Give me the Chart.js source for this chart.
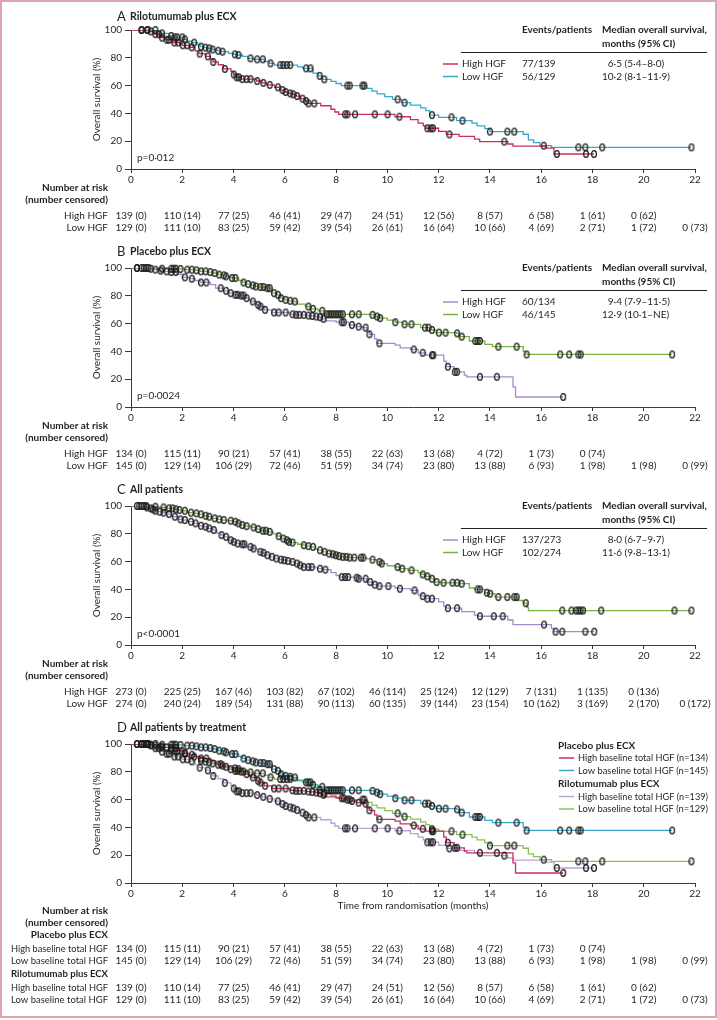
<!DOCTYPE html>
<html>
<head>
<meta charset="utf-8">
<script src="https://cdn.jsdelivr.net/npm/chart.js@4.4.1/dist/chart.umd.min.js"></script>
<style>
  html, body { margin: 0; padding: 0; background: #fff; }
  body { width: 717px; height: 1020px; position: relative; overflow: hidden; }
  .panel { position: absolute; left: 0; width: 717px; }
  .panel canvas { display: block; }
  .frame { position: absolute; left: 0; top: 0; width: 717px; height: 1018px; box-sizing: border-box;
           border: 2px solid #d9a5b7; pointer-events: none; }
</style>
</head>
<body>
<div class="panel" style="top:0"><canvas id="chartA" width="717" height="238"></canvas></div>
<div class="panel" style="top:238px"><canvas id="chartB" width="717" height="238"></canvas></div>
<div class="panel" style="top:476px"><canvas id="chartC" width="717" height="238"></canvas></div>
<div class="panel" style="top:714px"><canvas id="chartD" width="717" height="306"></canvas></div>
<div class="frame"></div>
<script>
// ---- data ----
const months = [0, 2, 4, 6, 8, 10, 12, 14, 16, 18, 20, 22];

// Rilotumumab plus ECX, high HGF: [month, survival %] after each drop
const rilHighSteps = [[0,100],[0.7,99],[0.9,97],[1.1,96],[1.2,94.5],[1.35,93],[1.6,91],[1.9,90],[2.0,89],[2.3,87.5],[2.5,85],[2.65,83],[2.9,81],[3.1,79],[3.2,77],[3.4,75],[3.6,72],[3.9,70],[4.0,68],[4.1,66],[4.3,64.7],[4.9,63.3],[5.1,62],[5.3,60.5],[5.6,58.8],[5.8,56.8],[6.0,55.4],[6.15,54.4],[6.3,53.7],[6.45,52.5],[6.6,50.6],[6.8,48.9],[6.9,47.2],[7.4,45.5],[7.8,43],[7.95,41],[8.1,39.3],[10.3,37.6],[10.9,35.5],[11.2,33],[11.4,31],[11.5,29.3],[12.0,27],[12.3,24.9],[12.8,23.5],[13.4,21.5],[13.6,19.7],[14.7,18],[14.9,16.5],[16.2,15],[16.5,10.8],[18.06,10.8]];
const rilHighCensor = [0.41,0.64,0.77,0.95,1.09,1.21,1.39,1.48,1.69,1.84,2.02,2.19,2.37,2.68,3.0,3.21,3.66,4.01,4.12,4.21,4.34,4.51,4.66,4.92,5.16,5.41,5.73,5.91,6.03,6.21,6.33,6.48,6.69,6.83,6.92,7.15,8.35,8.44,8.74,9.51,10.01,10.47,11.56,11.69,11.78,12.42,14.56,16.61,17.75,18.06];

const rilLowSteps = [[0,100],[1.0,99],[1.15,97.6],[1.5,95.7],[1.65,94.7],[2.05,93.3],[2.2,92],[2.4,90.9],[2.6,89.5],[2.7,88],[2.85,87.3],[3.0,86.8],[3.15,86],[3.35,85.1],[3.5,84.4],[3.8,83.2],[4.0,82.5],[4.15,82],[4.35,81],[4.55,79.6],[4.8,78.9],[5.2,77.5],[5.4,76],[5.6,74.8],[6.5,73.5],[6.7,72.4],[7.1,69],[7.3,67],[7.45,64.5],[7.8,63],[8.0,61.5],[8.2,60],[9.2,58],[9.4,56],[9.6,54],[9.9,52],[10.2,50.1],[10.55,47.7],[10.9,46],[11.3,44],[11.5,42],[11.65,38.8],[12.0,37.2],[12.7,34.8],[13.3,33],[13.5,31],[13.8,29],[14.0,26.9],[15.3,25],[15.5,21],[15.7,19],[15.95,16.8],[16.4,15.6],[21.86,15.6]];
const rilLowCensor = [0.41,0.64,0.95,1.21,1.57,1.7,1.8,2.0,2.1,2.46,2.73,2.9,3.05,3.18,3.4,3.57,4.05,4.19,4.66,4.92,5.14,5.44,5.82,5.94,6.08,6.21,6.83,7.0,7.36,7.54,8.44,8.53,9.03,9.1,10.4,10.67,11.74,12.5,12.93,14.0,14.68,14.95,16.1,17.45,17.72,18.38,21.86];

// Placebo plus ECX
const plaHighSteps = [[0,100],[0.6,99.5],[0.9,98.8],[1.1,98.1],[1.3,97.6],[1.5,97.1],[1.8,95.5],[2.0,93.3],[2.3,92.3],[2.5,91],[2.7,89.6],[3.1,88],[3.3,85.5],[3.6,83.6],[3.8,81.9],[4.0,80.7],[4.25,80.2],[4.45,78.3],[4.6,77],[4.7,75.9],[4.9,73.5],[5.0,72.3],[5.2,69.9],[5.5,68],[6.2,66.7],[6.4,66.3],[6.85,65.8],[7.0,65.5],[7.2,65.1],[7.3,64.6],[7.45,63.4],[7.6,62],[8.0,61],[8.5,59],[8.8,57.8],[9.0,57.1],[9.2,54],[9.3,52.3],[9.5,49],[9.6,45.8],[10.3,44.5],[10.5,42.5],[10.9,41.4],[11.2,39],[11.5,37.3],[12.2,33],[12.3,29],[12.6,25.3],[13.0,23],[13.1,21.7],[14.9,14.5],[15.0,7.2],[16.86,7.2]];
const plaHighCensor = [0.23,0.41,0.59,0.77,0.95,1.16,1.39,1.57,1.75,2.1,2.37,2.73,2.94,3.5,3.71,3.89,4.07,4.16,4.3,4.39,4.51,4.75,4.96,5.05,5.23,5.58,5.76,6.03,6.3,6.44,6.57,6.74,6.92,7.07,7.23,7.37,7.51,8.22,8.3,8.62,8.88,9.15,9.3,9.69,11.03,11.38,11.74,11.79,12.36,12.63,12.72,13.61,14.27,16.86];

const plaLowSteps = [[0,100],[1.0,99.5],[1.8,99.3],[2.1,98.8],[2.5,98.3],[2.7,97.6],[3.0,97.1],[3.2,96.4],[3.4,95.2],[3.6,94.7],[3.7,94],[3.9,92.8],[4.2,91],[4.35,89.6],[4.5,88.4],[4.7,87.5],[4.85,86.7],[5.0,86.3],[5.3,85.5],[5.5,81.9],[5.7,80.7],[5.85,78.3],[6.0,77.1],[6.15,76.4],[6.3,75.9],[6.5,74],[6.8,72.3],[7.0,70.6],[7.3,69.2],[7.55,66.7],[9.4,66.3],[9.55,65.1],[9.7,63.9],[10.0,62.5],[10.3,61],[10.6,59.5],[11.3,57.1],[11.7,55.4],[11.9,53.5],[12.7,53],[12.8,50.6],[13.2,47.5],[13.8,45],[14.1,43.4],[15.3,40],[15.4,37.8],[21.11,37.8]];
const plaLowCensor = [0.23,0.5,0.68,1.21,1.57,1.66,1.75,1.93,2.19,2.37,2.55,2.73,2.91,3.09,3.26,3.44,3.62,3.71,3.94,4.07,4.39,4.57,4.75,4.87,5.05,5.17,5.32,5.41,5.58,5.73,5.85,6.03,6.21,6.39,6.92,7.1,7.46,7.64,7.73,7.81,7.9,7.99,8.08,8.17,8.26,8.62,8.88,9.42,9.6,9.72,10.31,10.67,10.94,11.47,11.6,11.74,12.01,12.27,12.72,12.9,13.43,13.52,13.61,14.33,15.04,15.43,16.74,17.09,17.45,17.54,21.11];

// All patients
const allHighSteps = [[0,100],[0.55,99],[0.7,98.3],[0.85,97.6],[0.95,96.6],[1.05,95.9],[1.2,95.2],[1.4,94.2],[1.6,92.3],[1.85,90.4],[2.0,89.9],[2.2,88.7],[2.45,87.5],[2.65,85.8],[2.85,85.1],[3.0,83.9],[3.2,82.7],[3.35,80.5],[3.5,79.1],[3.65,77.8],[3.8,75.4],[3.95,74.2],[4.1,73],[4.25,72.5],[4.5,70.6],[4.75,69.4],[4.95,67],[5.1,66.3],[5.25,64.6],[5.45,63.4],[5.6,62.2],[5.8,61.4],[5.95,61],[6.1,60.5],[6.25,59.8],[6.4,58.6],[6.55,57.3],[6.7,56.1],[7.2,55.5],[7.3,54.9],[7.5,54.2],[7.8,52],[8.0,50],[8.15,48.9],[8.75,48.4],[8.85,47.7],[9.2,45.3],[9.45,43.4],[9.65,42.4],[10.3,41],[10.45,40.5],[10.9,39.3],[11.2,36],[11.35,35.2],[11.5,33.3],[12.0,31],[12.2,28],[12.3,26.5],[12.9,24],[13.4,21.5],[13.55,20.7],[14.7,18],[14.9,14.7],[16.4,12],[16.5,9.6],[18.07,9.6]];
const allHighCensor = [0.32,0.5,0.62,0.77,0.86,0.95,1.12,1.27,1.48,1.71,1.93,2.1,2.34,2.52,2.73,2.91,3.05,3.23,3.53,3.71,3.89,4.01,4.16,4.34,4.42,4.66,4.78,5.05,5.17,5.32,5.5,5.67,5.85,5.98,6.12,6.3,6.48,6.6,6.74,6.92,7.05,7.37,7.58,8.22,8.35,8.47,8.8,8.88,9.15,9.33,9.51,9.69,10.04,10.49,11.06,11.38,11.56,11.74,12.36,12.72,13.61,14.15,14.5,16.11,16.56,16.82,17.72,18.07];

const allLowSteps = [[0,100],[0.8,99.5],[1.1,99],[1.4,98.3],[1.7,97.6],[1.85,97.1],[2.0,96.6],[2.2,95.2],[2.45,94.7],[2.65,94],[2.85,93],[3.0,92.3],[3.15,91.1],[3.35,90.4],[3.55,89.9],[3.8,89.4],[4.0,88.7],[4.15,87.5],[4.3,86.3],[4.45,85.5],[4.7,84.6],[4.9,83.4],[5.1,82.2],[5.35,81.4],[5.55,80],[5.7,78.3],[5.85,76.6],[6.0,75.4],[6.15,74.2],[6.25,73.7],[6.5,72.5],[6.7,71.8],[6.85,71.1],[7.0,70.6],[7.2,69],[7.3,68.2],[7.5,67],[7.65,65.8],[7.8,65.3],[7.95,64.6],[8.05,63.9],[8.2,63.4],[8.5,62.9],[9.2,62],[9.35,61.4],[9.6,59.8],[9.75,58.6],[10.0,57],[10.3,56.1],[10.5,54.9],[10.8,53.7],[11.2,52],[11.35,50.8],[11.5,49.4],[11.7,47.7],[11.85,45.3],[12.1,44.8],[12.8,44.1],[13.2,41],[13.4,40],[13.8,37.6],[13.95,36.9],[14.2,34.5],[15.1,32],[15.3,30.1],[15.45,27],[15.5,24.8],[21.86,24.8]];
const allLowCensor = [0.23,0.41,0.59,0.95,1.27,1.48,1.62,1.75,1.89,2.1,2.34,2.55,2.73,2.91,3.05,3.26,3.44,3.62,3.89,4.07,4.19,4.34,4.51,4.78,4.96,5.14,5.26,5.41,5.76,5.94,6.08,6.16,6.3,6.74,6.92,7.1,7.37,7.55,7.73,7.87,7.99,8.12,8.26,8.4,8.53,8.71,8.97,9.06,9.42,9.69,9.78,10.4,10.58,10.94,11.38,11.56,11.74,11.92,12.19,12.54,12.72,12.9,13.52,13.61,13.88,14.01,14.33,14.68,14.95,15.04,15.4,16.82,17.18,17.36,17.45,17.54,17.63,18.34,21.2,21.86];

// number at risk / number censored
const rilHighRisk = [139, 110, 77, 46, 29, 24, 12, 8, 6, 1, 0];
const rilHighCens = [0, 14, 25, 41, 47, 51, 56, 57, 58, 61, 62];
const rilLowRisk = [129, 111, 83, 59, 39, 26, 16, 10, 4, 2, 1, 0];
const rilLowCens = [0, 10, 25, 42, 54, 61, 64, 66, 69, 71, 72, 73];
const plaHighRisk = [134, 115, 90, 57, 38, 22, 13, 4, 1, 0];
const plaHighCens = [0, 11, 21, 41, 55, 63, 68, 72, 73, 74];
const plaLowRisk = [145, 129, 106, 72, 51, 34, 23, 13, 6, 1, 1, 0];
const plaLowCens = [0, 14, 29, 46, 59, 74, 80, 88, 93, 98, 98, 99];
const allHighRisk = [273, 225, 167, 103, 67, 46, 25, 12, 7, 1, 0];
const allHighCens = [0, 25, 46, 82, 102, 114, 124, 129, 131, 135, 136];
const allLowRisk = [274, 240, 189, 131, 90, 60, 39, 23, 10, 3, 2, 0];
const allLowCens = [0, 24, 54, 88, 113, 135, 144, 154, 162, 169, 170, 172];

// legend tables
const eventsA = ['77/139', '56/129'];
const medianA = ['6·5 (5·4–8·0)', '10·2 (8·1–11·9)'];
const eventsB = ['60/134', '46/145'];
const medianB = ['9·4 (7·9–11·5)', '12·9 (10·1–NE)'];
const eventsC = ['137/273', '102/274'];
const medianC = ['8·0 (6·7–9·7)', '11·6 (9·8–13·1)'];

// ---- style ----
const FONT = 'Lato, "Open Sans", "Liberation Sans", sans-serif';
const INK = '#231f20';
const AXIS = '#3a3a3a';
const RED = '#c8305e', CYAN = '#39a9c9', LAV = '#a68bca', GREEN = '#76b545';
const LAV2 = '#bba3da', GREEN2 = '#88c257';

Chart.defaults.font.family = FONT;
Chart.defaults.font.size = 10;
Chart.defaults.color = INK;

const survAt = (steps, t) => {
  let s = steps[0][1];
  steps.forEach(([x, y]) => { if (x <= t) s = y; });
  return s;
};

// censor tick: small upright ellipse
const makeMark = () => {
  const c = document.createElement('canvas');
  c.width = 8; c.height = 10;
  const g = c.getContext('2d');
  g.strokeStyle = '#1b1b1b';
  g.lineWidth = 1.2;
  g.beginPath();
  g.ellipse(4, 5, 2.4, 3.4, 0, 0, Math.PI * 2);
  g.stroke();
  return c;
};
const MARK = makeMark();

const curve = (steps, censors, color) => [
  {
    data: steps.map(([x, y]) => ({ x, y })),
    borderColor: color,
    borderWidth: 1.3,
    stepped: true,
    pointRadius: 0,
    fill: false,
    order: 2,
  },
  {
    data: censors.map(t => ({ x: t, y: survAt(steps, t) })),
    showLine: false,
    pointStyle: MARK,
    pointRadius: 4,
    order: 1,
    clip: false,
  },
];

const font = (size, bold) => `${bold ? 'bold ' : ''}${size}px ${FONT}`;

const line = (ctx, x1, x2, y, color, w) => {
  ctx.strokeStyle = color;
  ctx.lineWidth = w;
  ctx.beginPath();
  ctx.moveTo(x1, y);
  ctx.lineTo(x2, y);
  ctx.stroke();
};

const tableLegend = (colors, labels, events, medians) => (ctx, a) => {
  const top = a.top;
  ctx.textAlign = 'left';
  ctx.font = font(10, true);
  ctx.fillText('Events/patients', 522, top);
  ctx.fillText('Median overall survival,', 602, top);
  ctx.fillText('months (95% CI)', 602, top + 14);
  line(ctx, 461, 707, top + 22.5, INK, 1);
  ctx.font = font(10);
  labels.forEach((lab, i) => {
    const y = top + 34 + i * 12.5;
    line(ctx, 443, 458, y, colors[i], 1.5);
    ctx.fillStyle = INK;
    ctx.fillText(lab, 462, y);
    ctx.fillText(events[i], 522, y);
    const pad = medians[i].indexOf('·') === 1 ? ctx.measureText('0').width : 0;
    ctx.fillText(medians[i], 602 + pad, y);
  });
};

const groupLegend = (groups) => (ctx, a) => {
  ctx.textAlign = 'left';
  let y = a.top + 1.5;
  groups.forEach(g => {
    ctx.fillStyle = INK;
    ctx.font = font(10, true);
    ctx.fillText(g.name, 558, y);
    ctx.font = font(10);
    g.items.forEach(([lab, color]) => {
      y += 12.5;
      line(ctx, 559, 574, y, color, 1.5);
      ctx.fillStyle = INK;
      ctx.fillText(lab, 578, y, 130);
    });
    y += 13.5;
  });
};

const textPlugin = (t) => ({
  id: 'panelText',
  afterDraw(chart) {
    const { ctx, chartArea: a, scales: { x } } = chart;
    ctx.save();
    ctx.fillStyle = INK;
    ctx.textBaseline = 'middle';
    ctx.textAlign = 'left';
    ctx.font = `13px ${FONT}`;
    ctx.fillText(t.letter, 117, a.top + t.titleDy);
    ctx.font = font(10.5, true);
    ctx.fillText(t.title, 130, a.top + t.titleDy);

    ctx.save();
    ctx.translate(97, (a.top + a.bottom) / 2);
    ctx.rotate(-Math.PI / 2);
    ctx.textAlign = 'center';
    ctx.font = font(10);
    ctx.fillText('Overall survival (%)', 0, 0);
    ctx.restore();

    if (t.pValue) {
      ctx.font = font(10);
      ctx.fillText(t.pValue, 137, a.bottom - 11);
    }
    if (t.xTitle) {
      ctx.textAlign = 'center';
      ctx.font = font(10);
      ctx.fillText(t.xTitle, (a.left + a.right) / 2, a.bottom + 23);
    }

    t.legend(ctx, a);

    t.rows.forEach(r => {
      const y = a.bottom + r.dy;
      ctx.fillStyle = INK;
      ctx.textAlign = 'right';
      ctx.font = font(10, r.bold);
      ctx.fillText(r.label, 108, y, 97);
      if (r.n) {
        ctx.textAlign = 'center';
        ctx.font = font(10);
        r.n.forEach((n, i) => ctx.fillText(`${n} (${r.c[i]})`, x.getPixelForValue(months[i]), y));
      }
    });
    ctx.restore();
  }
});

const makePanel = (id, bottomPad, datasets, text) => new Chart(
  document.getElementById(id),
  {
    type: 'line',
    data: { datasets },
    options: {
      responsive: false,
      animation: false,
      events: [],
      layout: { padding: { top: 30, right: 22, bottom: bottomPad, left: 0 } },
      scales: {
        x: {
          type: 'linear',
          min: 0,
          max: 22,
          afterFit: s => { s.height = 20; },
          ticks: { stepSize: 2, padding: 1, autoSkip: false, maxRotation: 0, color: INK },
          grid: { drawOnChartArea: false, tickLength: 4, color: AXIS },
          border: { color: AXIS },
        },
        y: {
          min: 0,
          max: 100,
          afterFit: s => { s.width = 131; },
          ticks: { stepSize: 20, padding: 3, color: INK },
          grid: { drawOnChartArea: false, tickLength: 6, color: AXIS },
          border: { color: AXIS },
        },
      },
      plugins: {
        legend: { display: false },
        tooltip: { enabled: false },
      },
    },
    plugins: [textPlugin(text)],
  }
);

const hgfRows = (hiN, hiC, loN, loC) => [
  { label: 'Number at risk', bold: true, dy: 19 },
  { label: '(number censored)', bold: true, dy: 30.5 },
  { label: 'High HGF', dy: 46.5, n: hiN, c: hiC },
  { label: 'Low HGF', dy: 59, n: loN, c: loC },
];

makePanel('chartA', 49,
  [...curve(rilHighSteps, rilHighCensor, RED), ...curve(rilLowSteps, rilLowCensor, CYAN)],
  {
    letter: 'A', title: 'Rilotumumab plus ECX', titleDy: -13, pValue: 'p=0·012',
    legend: tableLegend([RED, CYAN], ['High HGF', 'Low HGF'], eventsA, medianA),
    rows: hgfRows(rilHighRisk, rilHighCens, rilLowRisk, rilLowCens),
  });

makePanel('chartB', 49,
  [...curve(plaHighSteps, plaHighCensor, LAV), ...curve(plaLowSteps, plaLowCensor, GREEN)],
  {
    letter: 'B', title: 'Placebo plus ECX', titleDy: -16, pValue: 'p=0·0024',
    legend: tableLegend([LAV, GREEN], ['High HGF', 'Low HGF'], eventsB, medianB),
    rows: hgfRows(plaHighRisk, plaHighCens, plaLowRisk, plaLowCens),
  });

makePanel('chartC', 49,
  [...curve(allHighSteps, allHighCensor, LAV), ...curve(allLowSteps, allLowCensor, GREEN)],
  {
    letter: 'C', title: 'All patients', titleDy: -16, pValue: 'p<0·0001',
    legend: tableLegend([LAV, GREEN], ['High HGF', 'Low HGF'], eventsC, medianC),
    rows: hgfRows(allHighRisk, allHighCens, allLowRisk, allLowCens),
  });

makePanel('chartD', 117,
  [
    ...curve(plaHighSteps, plaHighCensor, RED),
    ...curve(plaLowSteps, plaLowCensor, CYAN),
    ...curve(rilHighSteps, rilHighCensor, LAV2),
    ...curve(rilLowSteps, rilLowCensor, GREEN2),
  ],
  {
    letter: 'D', title: 'All patients by treatment', titleDy: -16,
    xTitle: 'Time from randomisation (months)',
    legend: groupLegend([
      { name: 'Placebo plus ECX', items: [['High baseline total HGF (n=134)', RED], ['Low baseline total HGF (n=145)', CYAN]] },
      { name: 'Rilotumumab plus ECX', items: [['High baseline total HGF (n=139)', LAV2], ['Low baseline total HGF (n=129)', GREEN2]] },
    ]),
    rows: [
      { label: 'Number at risk', bold: true, dy: 28 },
      { label: '(number censored)', bold: true, dy: 40 },
      { label: 'Placebo plus ECX', bold: true, dy: 52 },
      { label: 'High baseline total HGF', dy: 66, n: plaHighRisk, c: plaHighCens },
      { label: 'Low baseline total HGF', dy: 78, n: plaLowRisk, c: plaLowCens },
      { label: 'Rilotumumab plus ECX', bold: true, dy: 91 },
      { label: 'High baseline total HGF', dy: 104.5, n: rilHighRisk, c: rilHighCens },
      { label: 'Low baseline total HGF', dy: 116.5, n: rilLowRisk, c: rilLowCens },
    ],
  });
</script>
</body>
</html>
